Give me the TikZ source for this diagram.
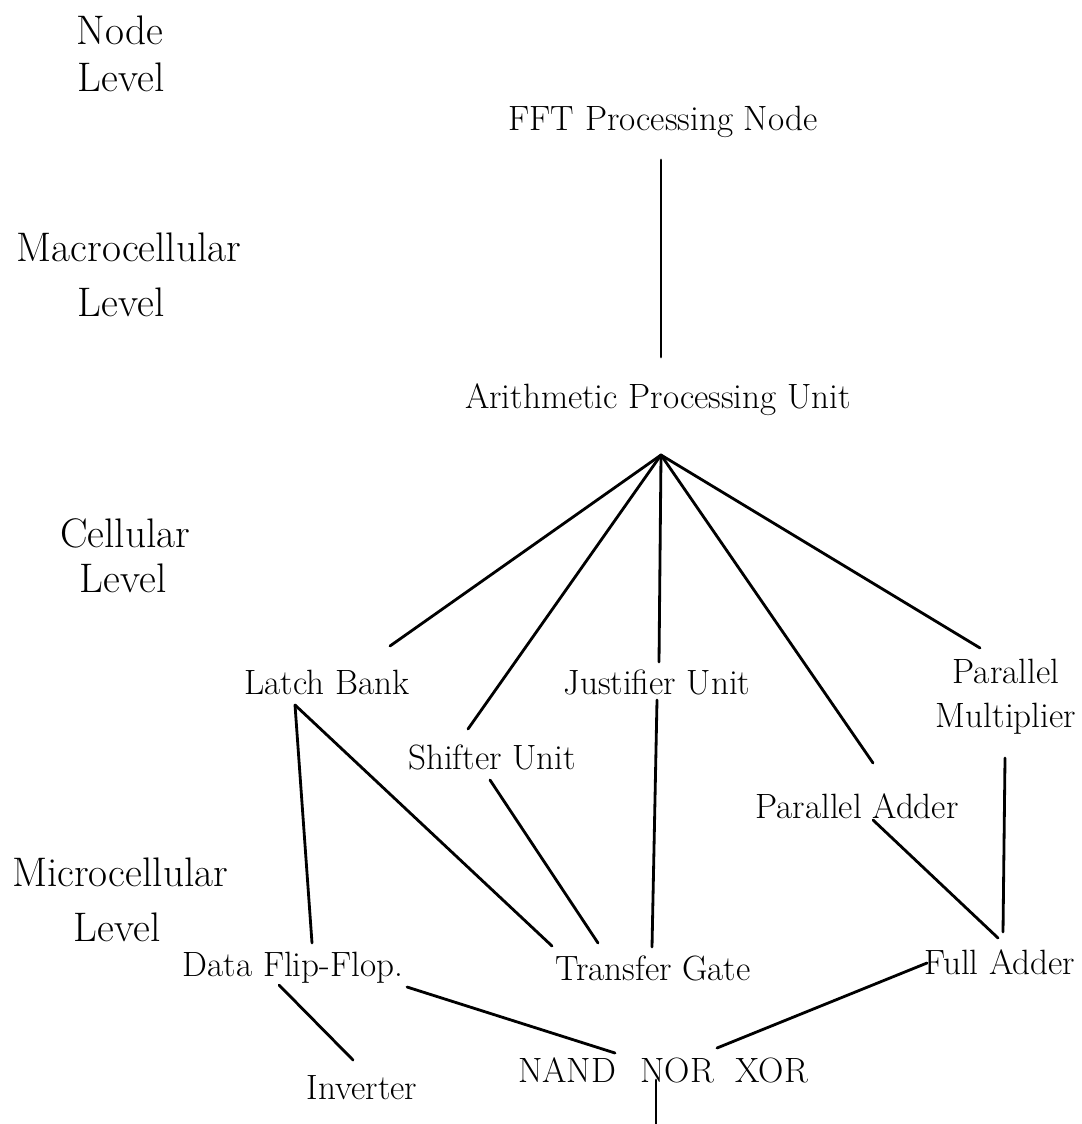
\documentclass[tikz,border=0pt]{standalone}
\usepackage{tikz}
\begin{document}
\begin{tikzpicture}[x=0.02cm,y=-0.02cm,
  lbl/.style={inner sep=0pt,anchor=center,font=\fontsize{20}{25}\selectfont,align=center},
  lvl/.style={lbl,font=\fontsize{23.5}{28}\selectfont},
  link/.style={line width=1.6pt,line cap=round}]
\useasboundingbox[fill=white] (0,0) rectangle (1081,1124);

% level captions on the left
\node[lvl] (nodeA)  at (120,30)  {Node};
\node[lvl] (nodeB)  at (121,77)  {Level};
\node[lvl] (macA)   at (129,247) {Macrocellular};
\node[lvl] (macB)   at (121,302) {Level};
\node[lvl] (celA)   at (125,533) {Cellular};
\node[lvl] (celB)   at (123,578) {Level};
\node[lvl] (micA)   at (120,872) {Microcellular};
\node[lvl] (micB)   at (117,927) {Level};

% hierarchy
\node[lbl] (fft)   at (663,122)  {FFT Processing Node};
\node[lbl] (apu)   at (658,400)  {Arithmetic Processing Unit};
\node[lbl] (lb)    at (327,682)  {Latch Bank};
\node[lbl] (ju)    at (657,682)  {Justifier Unit};
\node[lbl] (pm)    at (1006,697) {Parallel\\Multiplier};
\node[lbl] (su)    at (492,757)  {Shifter Unit};
\node[lbl] (pa)    at (857,806)  {Parallel Adder};
\node[lbl] (dff)   at (293,968)  {Data Flip-Flop.};
\node[lbl] (tg)    at (653,968)  {Transfer Gate};
\node[lbl] (fa)    at (1000,962) {Full Adder};
\node[lbl] (inv)   at (362,1088) {Inverter};
\node[lbl] (gates) at (663,1070) {NAND\hspace{0.7em}NOR\hspace{0.6em}XOR};

% attachment points of the connectors
\coordinate (fftS)  at (661,160);
\coordinate (apuN)  at (661,357);
\coordinate (apex)  at (661,455);
\coordinate (lbN)   at (390,646);
\coordinate (suN)   at (468,729);
\coordinate (juN)   at (659,662);
\coordinate (paN)   at (873,763);
\coordinate (pmN)   at (980,648);
\coordinate (lbS)   at (295,705);
\coordinate (dffN)  at (312,943);
\coordinate (tgNa)  at (552,946);
\coordinate (suS)   at (490,780);
\coordinate (tgNb)  at (598,943);
\coordinate (juS)   at (657,700);
\coordinate (tgNc)  at (652,947);
\coordinate (paS)   at (873,820);
\coordinate (faNa)  at (998,938);
\coordinate (pmS)   at (1005,758);
\coordinate (faNb)  at (1003,932);
\coordinate (dffE)  at (407,987);
\coordinate (gatesW) at (615,1053);
\coordinate (faW)   at (927,963);
\coordinate (gatesE) at (717,1048);
\coordinate (dffS)  at (279,985);
\coordinate (invN)  at (353,1060);
\coordinate (gatesS) at (656,1080);
\coordinate (below) at (656,1130);

% connectors
\draw[link] (fftS) -- (apuN);
\draw[link] (apex) -- (lbN);
\draw[link] (apex) -- (suN);
\draw[link] (apex) -- (juN);
\draw[link] (apex) -- (paN);
\draw[link] (apex) -- (pmN);
\draw[link] (lbS) -- (dffN);
\draw[link] (lbS) -- (tgNa);
\draw[link] (suS) -- (tgNb);
\draw[link] (juS) -- (tgNc);
\draw[link] (paS) -- (faNa);
\draw[link] (pmS) -- (faNb);
\draw[link] (dffE) -- (gatesW);
\draw[link] (faW) -- (gatesE);
\draw[link] (dffS) -- (invN);
\draw[link] (gatesS) -- (below);
\end{tikzpicture}
\end{document}
